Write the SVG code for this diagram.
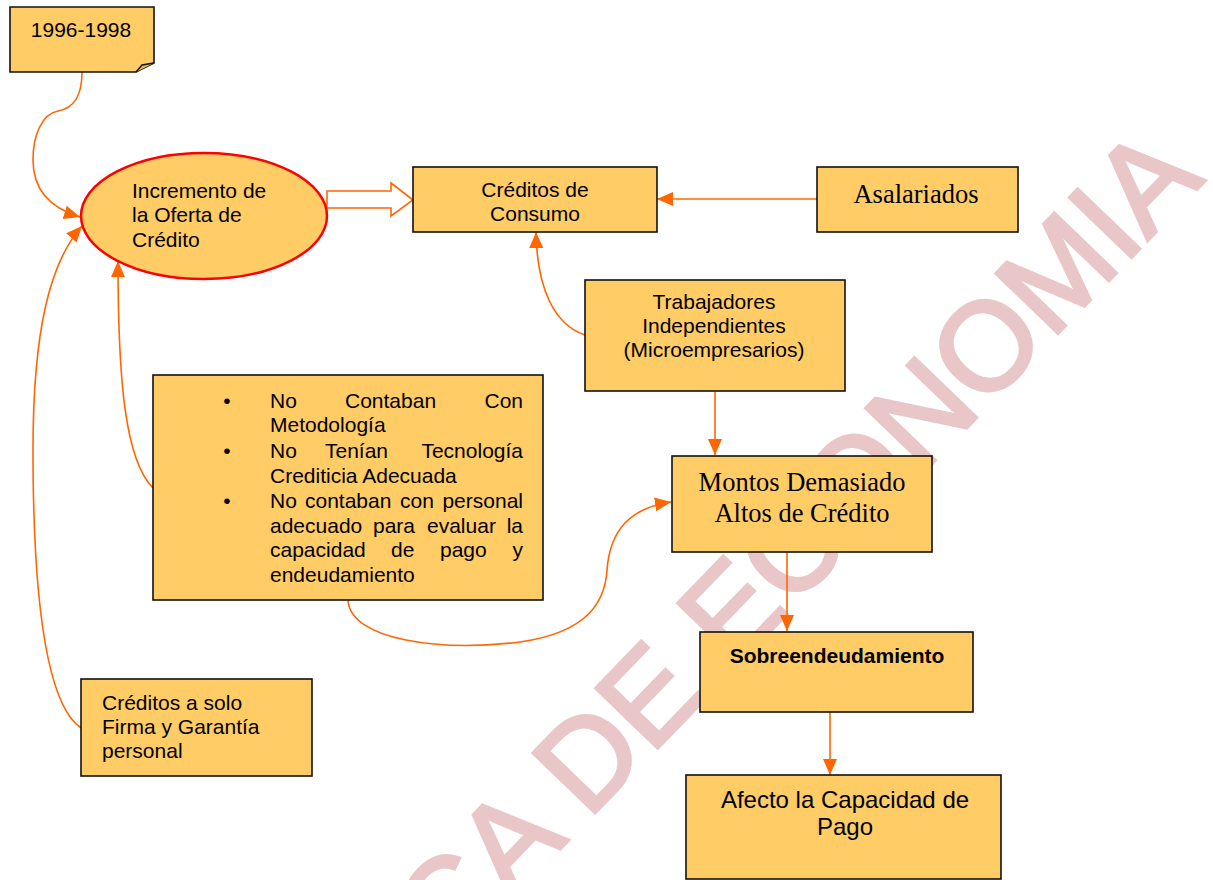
<svg xmlns="http://www.w3.org/2000/svg" width="1213" height="880" viewBox="0 0 1213 880">
  <style>
    .box { fill: #ffcc66; stroke: #111111; stroke-width: 1.6; }
    .t { font-family: "Liberation Sans", Arial, sans-serif; font-size: 21px; fill: #000000; }
    .tl { font-family: "Liberation Sans", Arial, sans-serif; font-size: 24px; fill: #000000; }
    .ts { font-family: "Liberation Serif", "Times New Roman", serif; font-size: 26.5px; fill: #000000; }
    .conn { fill: none; stroke: #ff6600; stroke-width: 1.6; }
    .wm { font-family: "Liberation Sans", Arial, sans-serif; font-size: 125px; fill: #e9c6c8; stroke: #e9c6c8; stroke-width: 3.5; }
  </style>
  <defs>
    <marker id="arrow" markerUnits="userSpaceOnUse" markerWidth="18" markerHeight="16" refX="16" refY="7" orient="auto">
      <path d="M0,0 L16,7 L0,14 Z" fill="#ff6600"/>
    </marker>
  </defs>

  <rect width="1213" height="880" fill="#ffffff"/>

  <!-- background watermark -->
  <text class="wm" x="448" y="965" transform="rotate(-46 448 965)">CA DE ECONOMIA</text>

  <!-- connectors -->
  <g id="connectors">
    <path class="conn" d="M82,72 C82,95 75,108 58,111 C42,114 33,135 33,160 C33,190 50,208 80,217" marker-end="url(#arrow)"/>
    <path class="conn" d="M81,728 C40,700 33,560 33,450 C33,330 50,262 82,226" marker-end="url(#arrow)"/>
    <path class="conn" d="M153,488 C125,460 118,380 118,261" marker-end="url(#arrow)"/>
    <polygon points="327,191 391,191 391,183 413,200 391,216 391,208 327,208" fill="#ffffff" stroke="#ff6600" stroke-width="1.6"/>
    <path class="conn" d="M817,199 H657" marker-end="url(#arrow)"/>
    <path class="conn" d="M585,335 C555,325 537,290 536,232" marker-end="url(#arrow)"/>
    <path class="conn" d="M715,392 V455" marker-end="url(#arrow)"/>
    <path class="conn" d="M348,600 C350,640 440,652 520,642 C590,632 605,600 607,570 C610,530 630,508 671,502" marker-end="url(#arrow)"/>
    <path class="conn" d="M787,552 V631" marker-end="url(#arrow)"/>
    <path class="conn" d="M830,695 V775" marker-end="url(#arrow)"/>
  </g>

  <!-- period note -->
  <g id="node-periodo">
    <path class="box" d="M10,7 H154 V63 L136,72 H10 Z"/>
    <path d="M136,72 L142,65 L154,63" fill="#f0b84e" stroke="#111111" stroke-width="1.4"/>
    <text class="t" x="81" y="37" text-anchor="middle">1996-1998</text>
  </g>

  <g id="node-incremento">
    <ellipse cx="204" cy="216" rx="123" ry="63" fill="#ffcc66" stroke="#ff0000" stroke-width="2.5"/>
    <text class="t" x="132" y="198">Incremento de</text>
    <text class="t" x="132" y="222">la Oferta de</text>
    <text class="t" x="132" y="247">Crédito</text>
  </g>

  <g id="node-consumo">
    <rect class="box" x="413" y="167" width="244" height="65"/>
    <text class="t" x="535" y="197" text-anchor="middle">Créditos de</text>
    <text class="t" x="535" y="221" text-anchor="middle">Consumo</text>
  </g>

  <g id="node-asalariados">
    <rect class="box" x="817" y="167" width="201" height="65"/>
    <text class="ts" x="916" y="203" text-anchor="middle">Asalariados</text>
  </g>

  <g id="node-trabajadores">
    <rect class="box" x="585" y="280" width="260" height="111"/>
    <text class="t" x="714" y="309" text-anchor="middle">Trabajadores</text>
    <text class="t" x="714" y="333" text-anchor="middle">Independientes</text>
    <text class="t" x="714" y="357" text-anchor="middle">(Microempresarios)</text>
  </g>

  <!-- justified bullet list: words placed across 270..523 -->
  <g id="node-deficiencias">
    <rect class="box" x="153" y="375" width="390" height="225"/>
    <text class="t" x="227" y="408" text-anchor="middle">•</text>
    <text class="t" x="227" y="458" text-anchor="middle">•</text>
    <text class="t" x="227" y="508" text-anchor="middle">•</text>
    <text class="t" y="408"><tspan x="270">No</tspan><tspan x="345">Contaban</tspan></text>
    <text class="t" x="523" y="408" text-anchor="end">Con</text>
    <text class="t" x="270" y="432">Metodología</text>
    <text class="t" y="458"><tspan x="270">No</tspan><tspan x="325">Tenían</tspan></text>
    <text class="t" x="523" y="458" text-anchor="end">Tecnología</text>
    <text class="t" x="270" y="483">Crediticia Adecuada</text>
    <text class="t" y="508"><tspan x="270">No</tspan><tspan x="305">contaban</tspan><tspan x="400">con</tspan></text>
    <text class="t" x="523" y="508" text-anchor="end">personal</text>
    <text class="t" y="533"><tspan x="270">adecuado</tspan><tspan x="373">para</tspan><tspan x="427">evaluar</tspan></text>
    <text class="t" x="523" y="533" text-anchor="end">la</text>
    <text class="t" y="557"><tspan x="270">capacidad</tspan><tspan x="391">de</tspan><tspan x="440">pago</tspan></text>
    <text class="t" x="523" y="557" text-anchor="end">y</text>
    <text class="t" x="270" y="582">endeudamiento</text>
  </g>

  <g id="node-montos">
    <rect class="box" x="672" y="456" width="260" height="96"/>
    <text class="ts" x="802" y="491" text-anchor="middle">Montos Demasiado</text>
    <text class="ts" x="802" y="522" text-anchor="middle">Altos de Crédito</text>
  </g>

  <g id="node-garantia">
    <rect class="box" x="81" y="679" width="231" height="97"/>
    <text class="t" x="102" y="710">Créditos a solo</text>
    <text class="t" x="102" y="734">Firma y Garantía</text>
    <text class="t" x="102" y="758">personal</text>
  </g>

  <g id="node-sobreendeudamiento">
    <rect class="box" x="700" y="632" width="273" height="80"/>
    <text class="t" x="837" y="663" text-anchor="middle" font-weight="bold">Sobreendeudamiento</text>
  </g>

  <g id="node-afecto">
    <rect class="box" x="686" y="775" width="315" height="104"/>
    <text class="tl" x="845" y="808" text-anchor="middle">Afecto la Capacidad de</text>
    <text class="tl" x="845" y="835" text-anchor="middle">Pago</text>
  </g>
</svg>
